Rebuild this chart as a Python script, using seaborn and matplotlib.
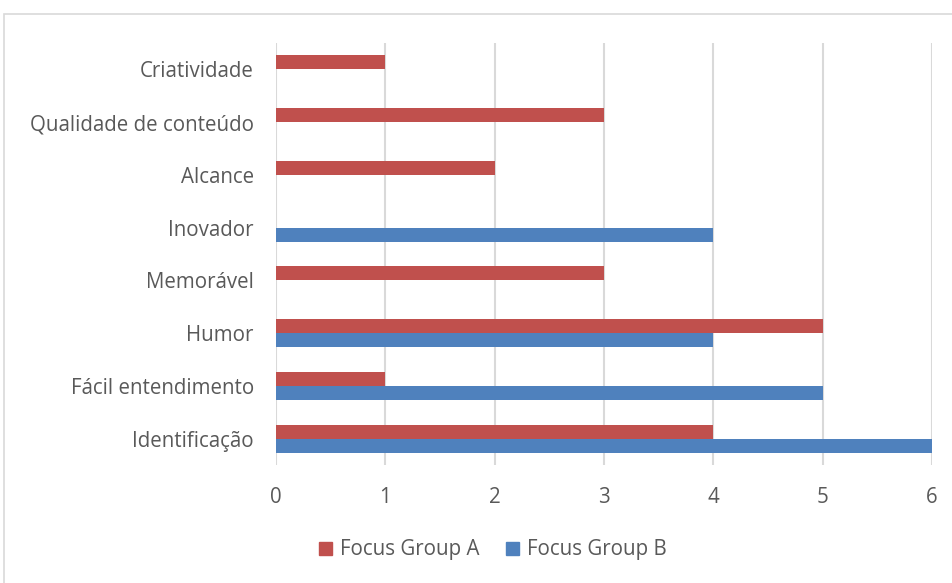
import pandas as pd
import numpy as np
import matplotlib.pyplot as plt
import seaborn as sns
from matplotlib.patches import Rectangle

categories = ["Criatividade", "Qualidade de conteúdo", "Alcance", "Inovador",
              "Memorável", "Humor", "Fácil entendimento", "Identificação"]
group_a = [1, 3, 2, 0, 3, 5, 1, 4]
group_b = [0, 0, 0, 4, 0, 4, 5, 6]
series = ["Focus Group A", "Focus Group B"]
colors = ["#C0504D", "#4F81BD"]

df = pd.DataFrame({
    "categoria": categories * 2,
    "valor": group_a + group_b,
    "grupo": [series[0]] * len(categories) + [series[1]] * len(categories),
})

sns.set_style("white")
plt.rcParams['font.family'] = ['Open Sans', 'DejaVu Sans']

fig = plt.figure(figsize=(9.53, 5.83), dpi=100)
ax = fig.add_axes([276/953, 1 - 465/583, (932 - 276)/953, (465 - 43)/583])

sns.barplot(data=df, y="categoria", x="valor", hue="grupo", order=categories,
            hue_order=series, palette=colors, orient="h", width=0.53,
            saturation=1, linewidth=0, ax=ax, legend=False)

ax.set_xlim(0, 6)
ax.set_ylim(7.5, -0.5)
ax.set_xticks(range(0, 7))
ax.grid(axis="x", color="#D9D9D9", linewidth=1.5)
ax.set_axisbelow(True)
for s in ax.spines.values():
    s.set_visible(False)
ax.set_xlabel("")
ax.set_ylabel("")
ax.tick_params(axis="both", length=0, labelsize=14.8, labelcolor="#595959")
ax.tick_params(axis="x", pad=16)
ax.tick_params(axis="y", pad=16)

# legend
handles = [Rectangle((0, 0), 1, 1, color=c) for c in colors]
fig.legend(handles, series, loc="center", bbox_to_anchor=(493/953, 1 - 550/583),
           ncol=2, frameon=False, fontsize=14.8, handlelength=0.6, handleheight=0.6,
           columnspacing=1.3, handletextpad=0.4, labelcolor="#595959")

# outer chart frame
fig.patches.append(Rectangle((4/953, -0.1), 1.2, 1 - 14/583 + 0.1,
                             transform=fig.transFigure, fill=False,
                             edgecolor="#D9D9D9", linewidth=1.2))

plt.savefig("out.png", dpi=100)
